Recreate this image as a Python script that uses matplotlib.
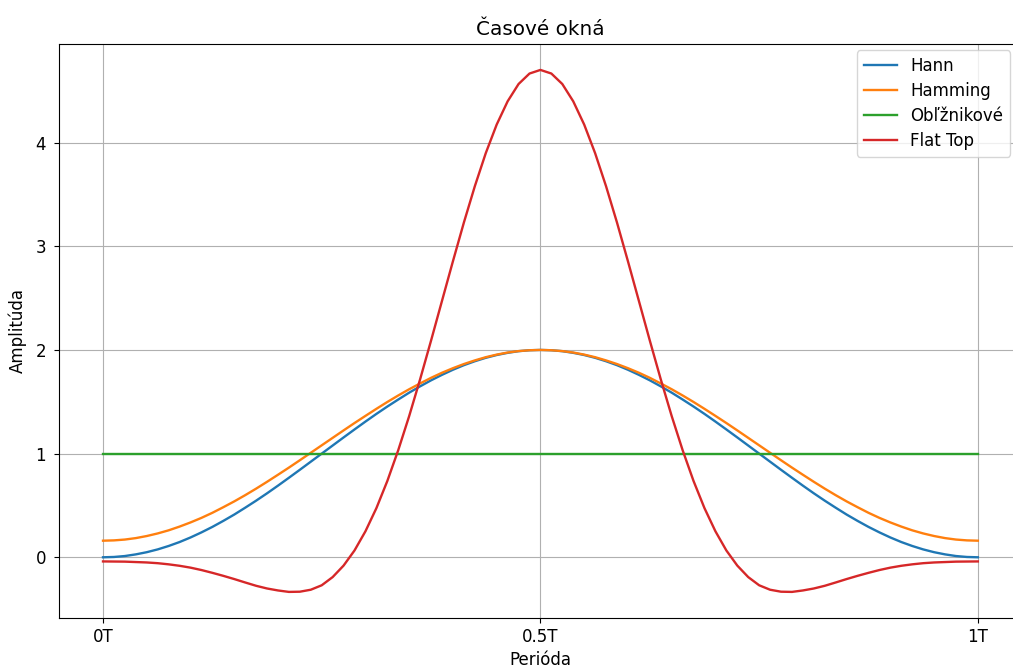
import numpy as np
import matplotlib
matplotlib.use("Agg")
import matplotlib.pyplot as plt

plt.rcParams["font.size"] = 12

# Okná vzorkované na polovici periódy (0 .. 0.5T, krok T/80), druhá polovica je zrkadlová
hann_half = [0.000, 0.003, 0.012, 0.028, 0.049, 0.076, 0.109, 0.147, 0.191, 0.240,
             0.293, 0.351, 0.412, 0.478, 0.546, 0.617, 0.691, 0.767, 0.844, 0.922,
             1.000, 1.078, 1.156, 1.233, 1.309, 1.383, 1.454, 1.522, 1.588, 1.649,
             1.707, 1.760, 1.809, 1.853, 1.891, 1.924, 1.951, 1.972, 1.988, 1.997,
             2.000]
hamming_half = [0.160, 0.163, 0.171, 0.185, 0.205, 0.230, 0.260, 0.296, 0.336, 0.380,
                0.429, 0.483, 0.539, 0.599, 0.662, 0.728, 0.796, 0.865, 0.936, 1.008,
                1.080, 1.152, 1.224, 1.295, 1.364, 1.432, 1.498, 1.561, 1.621, 1.677,
                1.731, 1.780, 1.824, 1.864, 1.899, 1.930, 1.955, 1.975, 1.989, 1.997,
                2.000]
flattop_half = [-0.040, -0.041, -0.042, -0.046, -0.050, -0.057, -0.068, -0.082, -0.100, -0.123,
                -0.150, -0.179, -0.210, -0.243, -0.275, -0.301, -0.320, -0.334, -0.332, -0.313,
                -0.270, -0.191, -0.080, 0.066, 0.251, 0.474, 0.736, 1.034, 1.363, 1.718,
                2.091, 2.474, 2.856, 3.229, 3.579, 3.898, 4.174, 4.398, 4.565, 4.666,
                4.701]
rect_x = [0.0, 1.0]
rect_y = [1.0, 1.0]

hann = hann_half + hann_half[-2::-1]
hamming = hamming_half + hamming_half[-2::-1]
flattop = flattop_half + flattop_half[-2::-1]
t = np.linspace(0, 1, len(hann))

tick_pos = [0, 0.5, 1]
tick_labels = ["0T", "0.5T", "1T"]

fig = plt.figure(figsize=(10.13, 6.70), dpi=100)
ax = fig.add_axes([0.0585, 0.0776, 0.950, 0.857])

ax.plot(t, hann, label="Hann", lw=1.7)
ax.plot(t, hamming, label="Hamming", lw=1.7)
ax.plot(rect_x, rect_y, label="Obľžnikové", lw=1.7)
ax.plot(t, flattop, label="Flat Top", lw=1.7)

ax.set_xticks(tick_pos)
ax.set_xticklabels(tick_labels)
ax.tick_params(axis="y", pad=6)
ax.set_title("Časové okná")
ax.set_xlabel("Perióda")
ax.set_ylabel("Amplitúda", labelpad=6)
ax.grid(True)
ax.legend(loc="upper right", bbox_to_anchor=(0.995, 1.0),
          borderaxespad=0.4, labelspacing=0.42)

fig.savefig("out.png", dpi=100)
